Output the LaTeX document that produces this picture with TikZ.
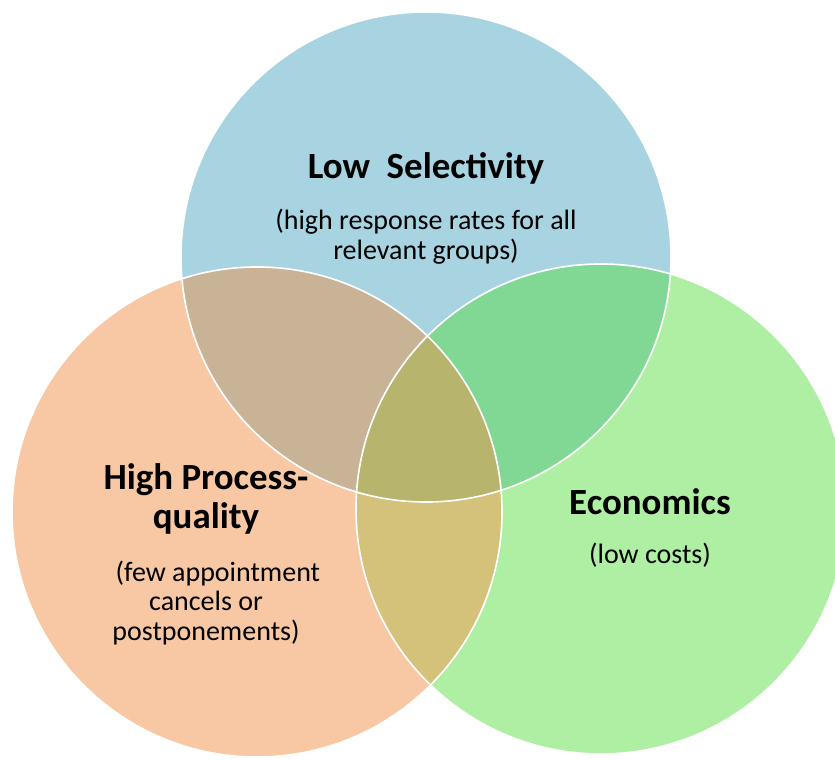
\documentclass[tikz,border=0pt]{standalone}
\usepackage{fontspec}
\setmainfont{Carlito}
\usetikzlibrary{positioning}

\definecolor{selblue}{HTML}{A8D3E0}
\definecolor{proorange}{HTML}{F8C7A3}
\definecolor{ecogreen}{HTML}{AEEFA3}
\definecolor{selpro}{HTML}{C9B396}
\definecolor{seleco}{HTML}{81D894}
\definecolor{proeco}{HTML}{D4C27A}
\definecolor{allthree}{HTML}{B7B46D}

\begin{document}
\begin{tikzpicture}[x=0.03cm,y=-0.03cm,node distance=2pt,
                    rim/.style={draw=white,line width=1.4pt},
                    head/.style={font=\fontsize{31.5}{33}\selectfont\bfseries,
                                 align=center,inner sep=0pt},
                    note/.style={font=\fontsize{23.9}{25.5}\selectfont,
                                 align=center,inner sep=0pt}]
  \def\rad{7.35cm}
  \useasboundingbox (0,0) rectangle (835,760);

  \coordinate (sel) at (426,257);
  \coordinate (pro) at (257,512);
  \coordinate (eco) at (601,509);

  % circles
  \fill[selblue]   (sel) circle[radius=\rad];
  \fill[proorange] (pro) circle[radius=\rad];
  \fill[ecogreen]  (eco) circle[radius=\rad];

  % overlaps
  \begin{scope}
    \clip (sel) circle[radius=\rad];
    \fill[selpro] (pro) circle[radius=\rad];
    \fill[seleco] (eco) circle[radius=\rad];
  \end{scope}
  \begin{scope}
    \clip (pro) circle[radius=\rad];
    \fill[proeco] (eco) circle[radius=\rad];
    \clip (eco) circle[radius=\rad];
    \fill[allthree] (sel) circle[radius=\rad];
  \end{scope}

  \draw[rim] (sel) circle[radius=\rad];
  \draw[rim] (pro) circle[radius=\rad];
  \draw[rim] (eco) circle[radius=\rad];

  % labels
  \node[head] (selhead) at (426,168) {Low\ \ Selectivity};
  \node[note] (selnote) at (426,237) {(high response rates for all\\relevant groups)};

  \node[head] (prohead) at (206,499) {High Process-\\quality};
  \node[note] (pronote) at (206,603) {\hspace*{0.85em}(few appointment\\cancels or\\postponements)};

  \node[head] (ecohead) at (650,502) {Economics};
  \node[note] (econote) at (650,555) {(low costs)};
\end{tikzpicture}
\end{document}
